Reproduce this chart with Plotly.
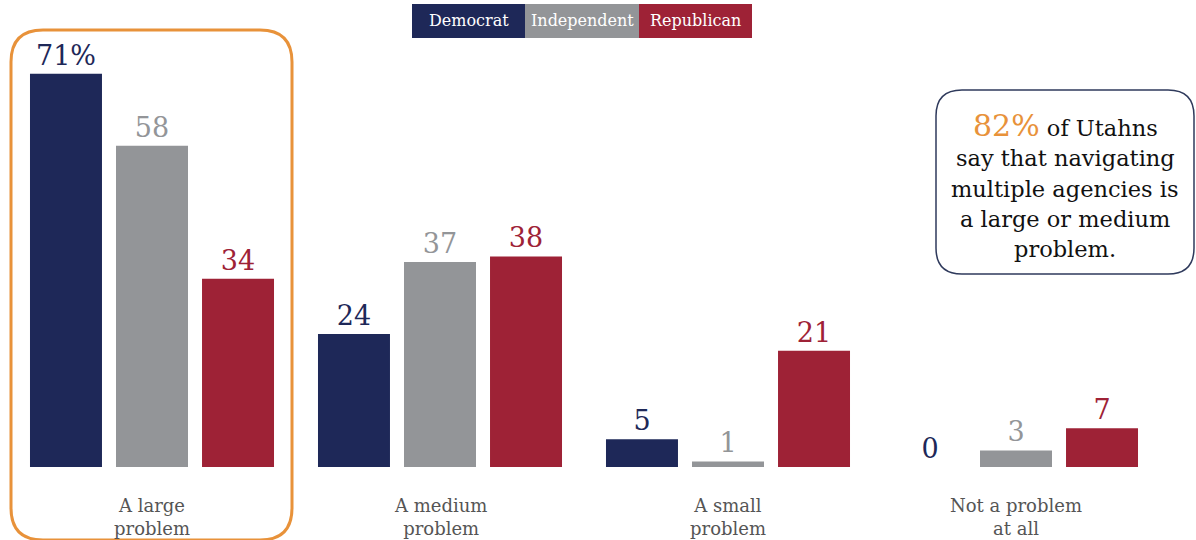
import plotly.graph_objects as go

categories = ["A large<br>problem", "A medium<br>problem", "A small<br>problem", "Not a problem<br>at all"]
series_names = ["Democrat", "Independent", "Republican"]
democrat = [71, 24, 5, 0]
independent = [58, 37, 1, 3]
republican = [34, 38, 21, 7]
colors = ["#1e2858", "#939598", "#9e2236"]

FONT = "DejaVu Serif"
W, H = 1196, 540
L, R, T, B = 8, 36, 30, 73
PW, PH = W - L - R, H - T - B
YMAX = PH / 5.54

def px(x):
    return (x - L) / PW

def py(y):
    return (H - B - y) / PH

def rrect(x0, y0, x1, y1, r):
    a, b, c, d = px(x0), px(x1), py(y0), py(y1)
    rx, ry = r / PW, r / PH
    return (f"M {a+rx},{c} L {b-rx},{c} Q {b},{c} {b},{c-ry} "
            f"L {b},{d+ry} Q {b},{d} {b-rx},{d} L {a+rx},{d} "
            f"Q {a},{d} {a},{d+ry} L {a},{c-ry} Q {a},{c} {a+rx},{c} Z")

fig = go.Figure()
all_vals = [democrat, independent, republican]
for i, (name, vals) in enumerate(zip(series_names, all_vals)):
    texts = [f"{v}%" if (i == 0 and k == 0) else f"{v}" for k, v in enumerate(vals)]
    fig.add_trace(go.Bar(
        x=list(range(len(categories))), y=vals, name=name,
        marker=dict(color=colors[i], line=dict(width=0)),
        text=texts, textposition="outside", cliponaxis=False,
        textfont=dict(family=FONT, size=27, color=colors[i]),
        hoverinfo="skip",
    ))

annotations = []
for k, c in enumerate(categories):
    annotations.append(dict(x=k, y=0, xref="x", yref="y", text=c, showarrow=False,
                            yanchor="top", yshift=-26,
                            font=dict(family=FONT, size=18, color="#555555")))

# legend boxes
shapes = []
leg = [(412, 525), (525, 639), (639, 752)]
for (x0, x1), name, col in zip(leg, series_names, colors):
    shapes.append(dict(type="rect", xref="paper", yref="paper", x0=px(x0), x1=px(x1),
                       y0=py(38), y1=py(4), fillcolor=col, line=dict(width=0), layer="above"))
    annotations.append(dict(x=px((x0 + x1) / 2), y=py(21), xref="paper", yref="paper",
                            text=name, showarrow=False, xanchor="center", yanchor="middle",
                            font=dict(family=FONT, size=16, color="white")))

# highlight box
shapes.append(dict(type="path", xref="paper", yref="paper", path=rrect(11, 30, 292, 540, 32),
                   line=dict(color="#e8923a", width=3), fillcolor="rgba(0,0,0,0)"))
# callout box
shapes.append(dict(type="path", xref="paper", yref="paper", path=rrect(936, 90, 1194, 274, 26),
                   line=dict(color="#2f3a5c", width=1.5), fillcolor="white"))

lines = ["<span style='color:#e8923a;font-size:30px'>82%</span> of Utahns",
         "say that navigating", "multiple agencies is", "a large or medium", "problem."]
ys = [126, 158, 189, 219, 249]
for t, yy in zip(lines, ys):
    annotations.append(dict(x=px(1065), y=py(yy), xref="paper", yref="paper", text=t,
                            showarrow=False, xanchor="center", yanchor="middle",
                            font=dict(family=FONT, size=22.5, color="#111111")))

fig.update_layout(
    width=W, height=H, margin=dict(l=L, r=R, t=T, b=B),
    paper_bgcolor="white", plot_bgcolor="white",
    barmode="group", bargap=0.104, bargroupgap=0.163,
    showlegend=False,
    xaxis=dict(range=[-0.5, 3.5], showticklabels=False, showgrid=False, zeroline=False,
               showline=False, fixedrange=True),
    yaxis=dict(range=[0, YMAX], showticklabels=False, showgrid=False, zeroline=False,
               showline=False, fixedrange=True),
    shapes=shapes, annotations=annotations,
)

fig.write_html("out.html", config={"displayModeBar": False},
               post_script="document.body.style.margin='0';document.body.style.overflow='hidden';")
